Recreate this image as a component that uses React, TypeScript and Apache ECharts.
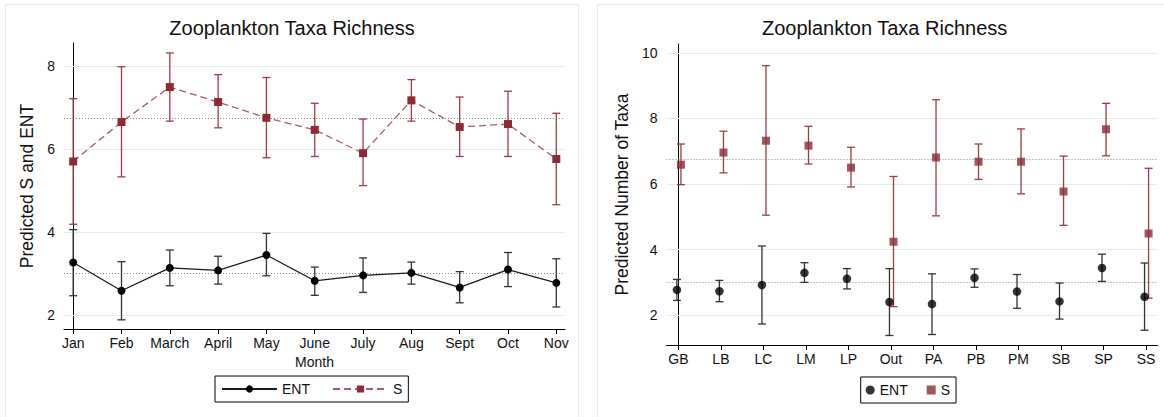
import { useEffect, useRef } from "react";
import * as echarts from "echarts";

// ---------- data ----------
const months = ["Jan", "Feb", "March", "April", "May", "June", "July", "Aug", "Sept", "Oct", "Nov"];
const sMonth = [5.7, 6.65, 7.49, 7.13, 6.75, 6.46, 5.9, 7.17, 6.53, 6.6, 5.76];
const sMonthLo = [4.19, 5.33, 6.67, 6.51, 5.79, 5.82, 5.12, 6.67, 5.82, 5.82, 4.66];
const sMonthHi = [7.21, 7.98, 8.31, 7.79, 7.72, 7.1, 6.72, 7.67, 7.25, 7.39, 6.86];
const entMonth = [3.27, 2.59, 3.14, 3.08, 3.45, 2.83, 2.96, 3.02, 2.67, 3.1, 2.78];
const entMonthLo = [2.47, 1.89, 2.71, 2.75, 2.95, 2.48, 2.55, 2.75, 2.3, 2.69, 2.2];
const entMonthHi = [4.06, 3.29, 3.57, 3.42, 3.97, 3.16, 3.38, 3.28, 3.05, 3.51, 3.36];

const sites = ["GB", "LB", "LC", "LM", "LP", "Out", "PA", "PB", "PM", "SB", "SP", "SS"];
const sSite = [6.59, 6.96, 7.32, 7.17, 6.5, 4.24, 6.81, 6.68, 6.68, 5.77, 7.67, 4.49];
const sSiteLo = [5.98, 6.34, 5.05, 6.61, 5.91, 2.26, 5.03, 6.14, 5.7, 4.74, 6.86, 2.52];
const sSiteHi = [7.22, 7.61, 9.61, 7.76, 7.12, 6.23, 8.57, 7.22, 7.68, 6.85, 8.46, 6.48];
const entSite = [2.77, 2.73, 2.92, 3.29, 3.11, 2.4, 2.34, 3.14, 2.72, 2.42, 3.44, 2.56];
const entSiteLo = [2.45, 2.41, 1.73, 3.0, 2.8, 1.38, 1.41, 2.85, 2.21, 1.88, 3.03, 1.54];
const entSiteHi = [3.09, 3.06, 4.11, 3.6, 3.42, 3.42, 3.26, 3.41, 3.24, 2.98, 3.86, 3.59];

const sMean = 6.75;
const entMean = 3.0;
const monthYTicks = [2, 4, 6, 8];
const siteYTicks = [2, 4, 6, 8, 10];

// ---------- styles ----------
const FONT = "'Liberation Sans', Arial, Helvetica, sans-serif";
const TXT = "#111";
const MAROON = "#8c2a35";
const MAROON_BAR = "#9c3d46";
const MAROON_LINE = "#ad5a62";
const GRID = "#e2edf1";
const PANEL = "#e3eaec";

function errorBars(name: string, lo: number[], hi: number[], offset: number, color: string) {
  return {
    type: "custom",
    name,
    silent: true,
    z: 2,
    data: lo.map((l, i) => [i + offset, l, hi[i]]),
    encode: { x: 0, y: [1, 2] },
    renderItem: (_p: any, api: any) => {
      const x = api.value(0);
      const a = api.coord([x, api.value(1)]);
      const b = api.coord([x, api.value(2)]);
      const hw = 4;
      const style = { stroke: color, lineWidth: 1.3, fill: "none" };
      return {
        type: "group",
        children: [
          { type: "line", shape: { x1: a[0], y1: a[1], x2: b[0], y2: b[1] }, style },
          { type: "line", shape: { x1: a[0] - hw, y1: a[1], x2: a[0] + hw, y2: a[1] }, style },
          { type: "line", shape: { x1: b[0] - hw, y1: b[1], x2: b[0] + hw, y2: b[1] }, style },
        ],
      };
    },
  };
}

function refLines(ticks: number[]) {
  return {
    silent: true,
    symbol: "none",
    z: 1,
    label: { show: false },
    emphasis: { disabled: true },
    data: [
      ...ticks.map((t) => ({ yAxis: t, lineStyle: { color: GRID, width: 1, type: "solid" } })),
      { yAxis: sMean, lineStyle: { color: "#8a8a8a", width: 1, type: [1, 2] } },
      { yAxis: entMean, lineStyle: { color: "#8a8a8a", width: 1, type: [1, 2] } },
    ],
  };
}

function axisCommon() {
  return {
    splitLine: { show: false },
    axisLine: { show: true, lineStyle: { color: "#000", width: 1 } },
  };
}

function leftOption() {
  const idx = months.map((_, i) => i);
  return {
    animation: false,
    textStyle: { fontFamily: FONT },
    graphic: [
      {
        type: "rect",
        silent: true,
        z: -10,
        shape: { x: 5.5, y: 4.5, width: 573, height: 440 },
        style: { fill: "#fff", stroke: PANEL, lineWidth: 1 },
      },
    ],
    title: {
      text: "Zooplankton Taxa Richness",
      left: 292,
      textAlign: "center",
      top: 18,
      padding: 0,
      textStyle: { fontFamily: FONT, fontSize: 20, fontWeight: "normal", color: TXT },
    },
    grid: { left: 64, top: 43, width: 501, height: 286 },
    xAxis: {
      type: "value",
      min: -0.19,
      max: 10.18,
      name: "Month",
      nameLocation: "middle",
      nameGap: 20,
      nameTextStyle: { fontFamily: FONT, fontSize: 14, color: TXT },
      ...axisCommon(),
      axisTick: { show: true, length: 5, customValues: idx, lineStyle: { color: "#000" } },
      axisLabel: {
        customValues: idx,
        formatter: (v: number) => months[Math.round(v)] ?? "",
        fontFamily: FONT,
        fontSize: 14,
        color: TXT,
        margin: 7,
      },
    },
    yAxis: {
      type: "value",
      min: 1.67,
      max: 8.55,
      name: "Predicted S and ENT",
      nameLocation: "middle",
      nameGap: 27,
      nameTextStyle: { fontFamily: FONT, fontSize: 17.5, color: TXT },
      ...axisCommon(),
      axisTick: { show: true, length: 6, customValues: monthYTicks, lineStyle: { color: "#000" } },
      axisLabel: { customValues: monthYTicks, fontFamily: FONT, fontSize: 14, color: TXT, margin: 9 },
    },
    legend: {
      data: ["ENT", "S"],
      left: 215,
      top: 376,
      orient: "horizontal",
      borderColor: "#000",
      borderWidth: 1,
      padding: [6, 6, 6, 6],
      itemWidth: 55,
      itemHeight: 9,
      itemGap: 22,
      textStyle: { fontFamily: FONT, fontSize: 14, color: TXT },
    },
    series: [
      { ...errorBars("ENT CI", entMonthLo, entMonthHi, 0, "#333"), markLine: refLines(monthYTicks) },
      errorBars("S CI", sMonthLo, sMonthHi, 0, MAROON_BAR),
      {
        type: "line",
        name: "ENT",
        z: 3,
        data: entMonth.map((v, i) => [i, v]),
        symbol: "circle",
        symbolSize: 8,
        showSymbol: true,
        itemStyle: { color: "#000" },
        lineStyle: { color: "#1a1a1a", width: 1.3 },
      },
      {
        type: "line",
        name: "S",
        z: 3,
        data: sMonth.map((v, i) => [i, v]),
        symbol: "rect",
        symbolSize: 8,
        showSymbol: true,
        itemStyle: { color: MAROON },
        lineStyle: { color: MAROON_LINE, width: 1.3, type: [7, 4] },
      },
    ],
  };
}

function rightOption() {
  const idx = sites.map((_, i) => i);
  const entOff = -0.035;
  const sOff = 0.06;
  return {
    animation: false,
    textStyle: { fontFamily: FONT },
    graphic: [
      {
        type: "rect",
        silent: true,
        z: -10,
        shape: { x: 15.5, y: 4.5, width: 600, height: 440 },
        style: { fill: "#fff", stroke: PANEL, lineWidth: 1 },
      },
    ],
    title: {
      text: "Zooplankton Taxa Richness",
      left: 302.6,
      textAlign: "center",
      top: 18,
      padding: 0,
      textStyle: { fontFamily: FONT, fontSize: 20, fontWeight: "normal", color: TXT },
    },
    grid: { left: 84.5, top: 44, width: 491, height: 301 },
    xAxis: {
      type: "value",
      min: -0.28,
      max: 11.27,
      ...axisCommon(),
      axisTick: { show: true, length: 5, customValues: idx, lineStyle: { color: "#000" } },
      axisLabel: {
        customValues: idx,
        formatter: (v: number) => sites[Math.round(v)] ?? "",
        fontFamily: FONT,
        fontSize: 14,
        color: TXT,
        margin: 7,
      },
    },
    yAxis: {
      type: "value",
      min: 1.09,
      max: 10.27,
      name: "Predicted Number of Taxa",
      nameLocation: "middle",
      nameGap: 36,
      nameTextStyle: { fontFamily: FONT, fontSize: 17.5, color: TXT },
      ...axisCommon(),
      axisTick: { show: true, length: 6, customValues: siteYTicks, lineStyle: { color: "#000" } },
      axisLabel: { customValues: siteYTicks, fontFamily: FONT, fontSize: 14, color: TXT, margin: 9 },
    },
    legend: {
      data: [
        { name: "ENT", icon: "circle" },
        { name: "S", icon: "rect" },
      ],
      left: 278.7,
      top: 377,
      borderColor: "#000",
      borderWidth: 1,
      padding: [6, 6, 6, 5],
      itemWidth: 9,
      itemHeight: 9,
      itemGap: 19,
      textStyle: { fontFamily: FONT, fontSize: 14, color: TXT },
    },
    series: [
      { ...errorBars("ENT CI", entSiteLo, entSiteHi, entOff, "#333"), markLine: refLines(siteYTicks) },
      errorBars("S CI", sSiteLo, sSiteHi, sOff, MAROON_BAR),
      {
        type: "scatter",
        name: "ENT",
        z: 3,
        data: entSite.map((v, i) => [i + entOff, v]),
        symbol: "circle",
        symbolSize: 8.5,
        itemStyle: { color: "#000" },
      },
      {
        type: "scatter",
        name: "S",
        z: 3,
        data: sSite.map((v, i) => [i + sOff, v]),
        symbol: "rect",
        symbolSize: 8,
        itemStyle: { color: MAROON },
      },
    ],
  };
}

export default function App() {
  const leftRef = useRef<HTMLDivElement>(null);
  const rightRef = useRef<HTMLDivElement>(null);

  useEffect(() => {
    const l = echarts.init(leftRef.current!, undefined, { renderer: "svg" });
    const r = echarts.init(rightRef.current!, undefined, { renderer: "svg" });
    l.setOption(leftOption() as any);
    r.setOption(rightOption() as any);
    return () => {
      l.dispose();
      r.dispose();
    };
  }, []);

  return (
    <div style={{ position: "fixed", left: 0, top: 0, width: 1164, height: 417, background: "#fff" }}>
      <div ref={leftRef} style={{ position: "absolute", left: 0, top: 0, width: 582, height: 417 }} />
      <div ref={rightRef} style={{ position: "absolute", left: 582, top: 0, width: 582, height: 417 }} />
    </div>
  );
}
